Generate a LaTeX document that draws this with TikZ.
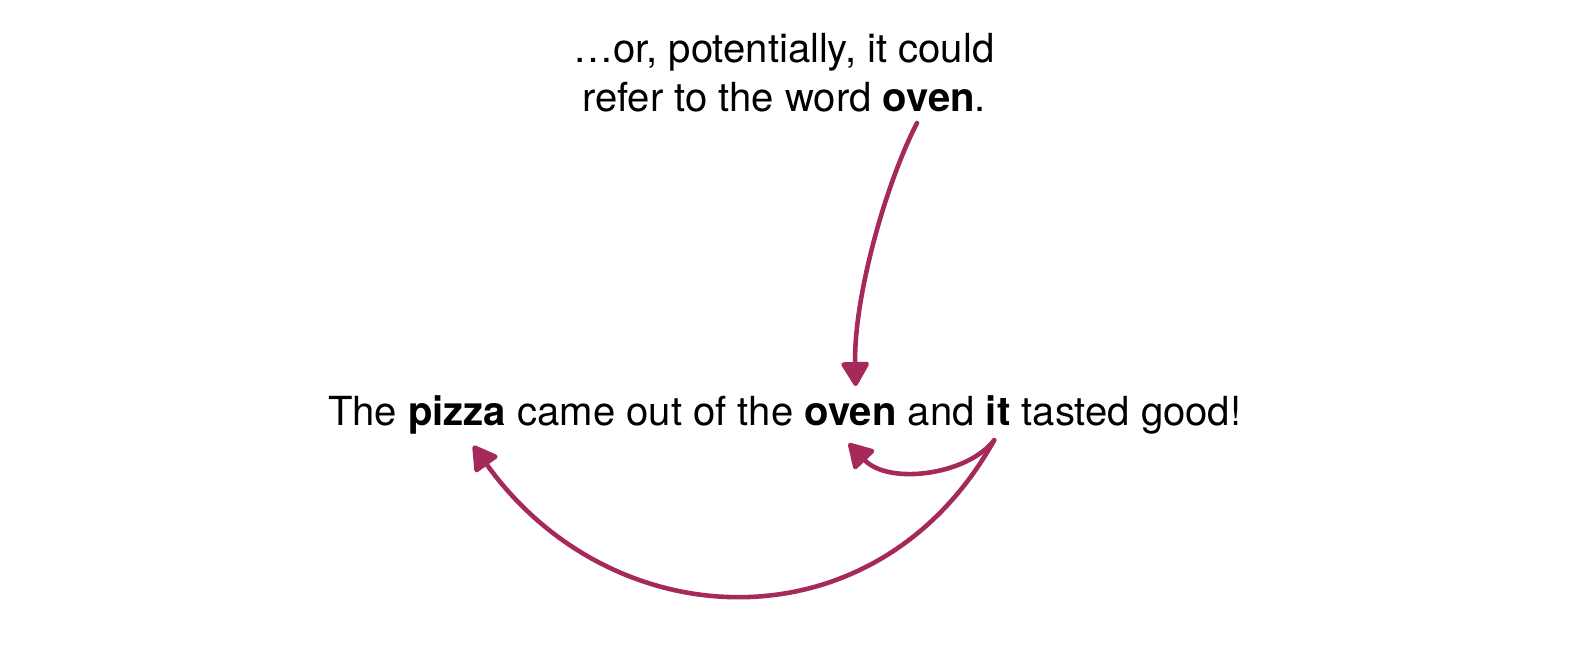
\documentclass[tikz,border=0pt]{standalone}
\usepackage{fontspec}
\setmainfont{TeX Gyre Heros}
\usepackage{tikz}
\usetikzlibrary{positioning, arrows.meta}
\definecolor{berry}{RGB}{166,41,91}

\begin{document}
\begin{tikzpicture}[>={Triangle[length=7.5pt, width=8.5pt, round]},
    word/.style={inner sep=0pt, outer sep=0pt, font=\fontsize{11.4}{13.9}\selectfont},
    link/.style={->, line width=1.3pt, berry, line cap=round}]
    % Frame
    \useasboundingbox (0,0) rectangle (15.70,-6.49);

    % Note above
    \node[word, align=center, anchor=south] (note) at (7.84,-1.12)
        {…or, potentially, it could\\refer to the word \textbf{oven}.};

    % Sentence, word by word
    \node[word, anchor=base west] (w1) at (3.28,-4.25) {The};
    \node[word, base right=3.2pt of w1] (pizza) {\textbf{pizza}};
    \node[word, base right=3.2pt of pizza] (w2) {came out of the};
    \node[word, base right=3.2pt of w2] (oven) {\textbf{oven}};
    \node[word, base right=3.2pt of oven] (w3) {and};
    \node[word, base right=3.2pt of w3] (it) {\textbf{it}};
    \node[word, base right=3.2pt of it] (w4) {tasted good!};

    % Arrow ends
    \coordinate (notefoot) at ([xshift=1.33cm, yshift=-0.11cm]note.south);
    \coordinate (itfoot) at ([xshift=-0.04cm, yshift=-0.15cm]it.south);
    \coordinate (oventop) at ([xshift=0.05cm, yshift=0.17cm]oven.north);
    \coordinate (ovenfoot) at ([xshift=-0.02cm, yshift=-0.18cm]oven.south);
    \coordinate (pizzafoot) at ([xshift=0.16cm, yshift=-0.12cm]pizza.south);

    % Arrows
    \draw[link] (notefoot) .. controls +(-0.32,-0.62) and +(-0.02,0.87) .. (oventop);
    \draw[link] (itfoot) .. controls +(-0.27,-0.35) and +(0.40,-0.42) .. (ovenfoot);
    \draw[link] (itfoot) .. controls +(-1.17,-2.1) and +(1.4,-1.95) .. (pizzafoot);
\end{tikzpicture}
\end{document}
